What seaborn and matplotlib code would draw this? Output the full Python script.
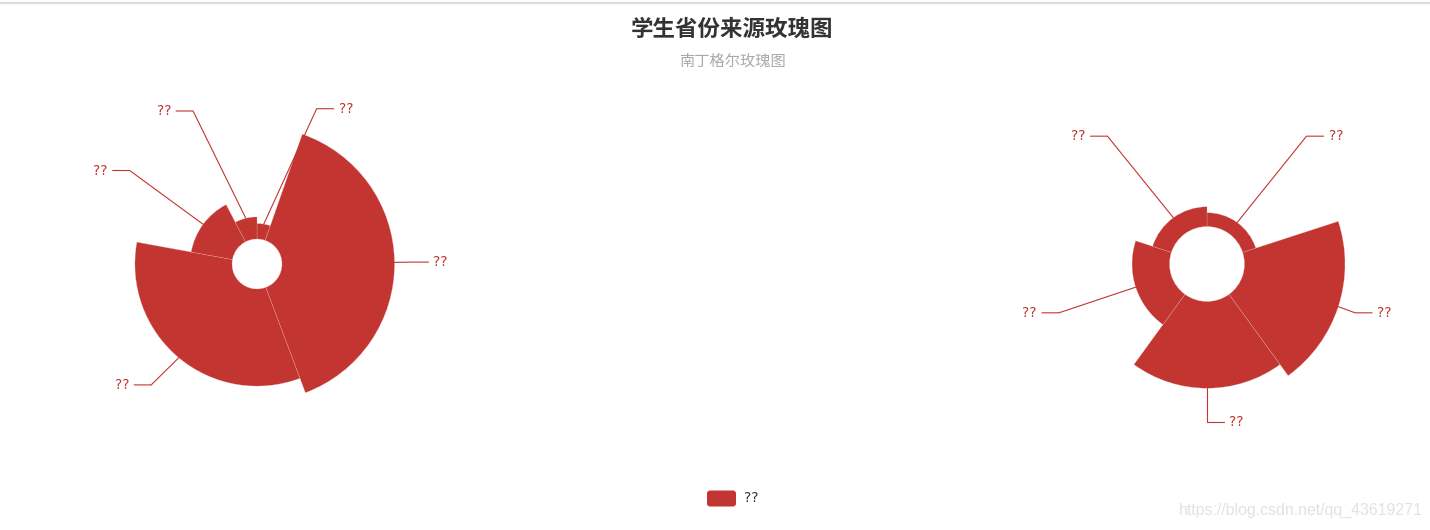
"""南丁格尔玫瑰图：学生省份来源（半径模式 + 面积模式）。"""
import math

import matplotlib
matplotlib.use("Agg")
import matplotlib.pyplot as plt
from matplotlib.patches import FancyBboxPatch, Wedge
import seaborn as sns

# data
provinces = ["??", "??", "??", "??", "??"]
students = [7, 51, 44, 19, 10]
series_name = "??"
title = "学生省份来源玫瑰图"
subtitle = "南丁格尔玫瑰图"
watermark = "https://blog.csdn.net/qq_43619271"

RED = "#c23531"
W, H = 1430, 530

sns.set_style("white")
plt.rcParams["font.family"] = ["Noto Sans CJK SC", "DejaVu Sans"]


def draw_rose(ax, cx, cy, r0, R, values, labels, mode):
    """Vẽ một rose pie, góc bắt đầu ở 12 giờ, chiều kim đồng hồ."""
    vmax, total = max(values), sum(values)
    if mode == "radius":
        spans = [v / total * 360 for v in values]
    else:
        spans = [360 / len(values)] * len(values)

    L1, L2 = 20, 17
    C = R + L1 + L2
    items = []
    start = 0.0
    for v, span, lab in zip(values, spans, labels):
        r = r0 + v / vmax * (R - r0)
        ax.add_patch(Wedge((cx, cy), r, start - 90, start + span - 90,
                           width=r - r0, facecolor=RED, edgecolor="#e8b4b4",
                           linewidth=0.2))
        t = math.radians(start + span / 2)
        sx, sy = math.sin(t), -math.cos(t)
        side = 1 if sx >= 0 else -1
        ex, ey = cx + (R + L1) * sx, cy + (R + L1) * sy
        items.append(dict(x1=cx + r * sx, y1=cy + r * sy, y=ey,
                          x=ex + side * (L2 + 3), side=side, text=lab))
        start += span

    # giống changeX của echarts: nhãn đặt trên vòng tròn bán kính C
    for side in (1, -1):
        group = [it for it in items if it["side"] == side]
        up = sorted([it for it in group if it["y"] < cy], key=lambda d: d["y"])
        down = sorted([it for it in group if it["y"] >= cy], key=lambda d: d["y"])
        for lst, is_down in ((up, False), (down, True)):
            last = math.inf if is_down else 0
            for it in lst:
                dy = abs(it["y"] - cy)
                if dy < R + L1 - 1e-6:
                    dx = math.sqrt(C * C - dy * dy)
                else:
                    dx = abs(it["x"] - cx)
                if is_down and dx >= last:
                    dx = last - 10
                if not is_down and dx <= last:
                    dx = last + 10
                it["x"] = cx + side * dx
                last = dx

    for it in items:
        s = it["side"]
        end = it["x"] - s * 3
        elbow = end - s * L2
        ax.plot([it["x1"], elbow, end], [it["y1"], it["y"], it["y"]],
                color=RED, lw=0.8, solid_joinstyle="miter")
        ax.text(it["x"] + s * 2, it["y"], it["text"], color=RED, fontsize=9.8,
                ha="left" if s > 0 else "right", va="center",
                family=["DejaVu Sans"])


fig = plt.figure(figsize=(W / 100, H / 100), dpi=100)
ax = fig.add_axes([0, 0, 1, 1])
ax.set_xlim(0, W)
ax.set_ylim(H, 0)
ax.axis("off")

# đường viền xám phía trên
ax.plot([0, W], [2.5, 2.5], color="#dcdcdc", lw=1.6)

draw_rose(ax, 257, 264, 25, 137.5, students, provinces, "radius")
draw_rose(ax, 1207, 264, 37.5, 138, students, provinces, "area")

ax.text(732, 29, title, ha="center", va="center", fontsize=16.2,
        fontweight="bold", color="#333333")
ax.text(732, 61, subtitle, ha="center", va="center", fontsize=11,
        color="#aaaaaa")

# legend
ax.add_patch(FancyBboxPatch((707, 490.5), 29, 16,
                            boxstyle="round,pad=0,rounding_size=3",
                            facecolor=RED, edgecolor="none"))
ax.text(744, 498.5, series_name, ha="left", va="center", fontsize=9.8,
        color="#333333", family=["DejaVu Sans"])

ax.text(1423, 510, watermark, ha="right", va="center", fontsize=11.4,
        color="#e2e2e2", family=["Liberation Sans"])

plt.savefig("out.png", dpi=100)
plt.close(fig)
